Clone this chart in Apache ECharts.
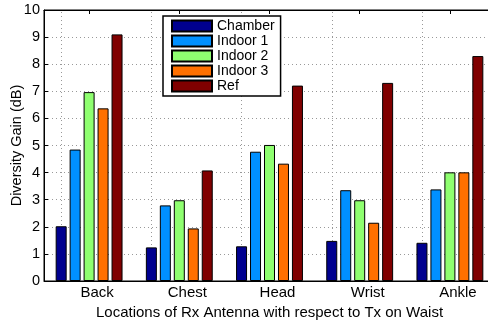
<!DOCTYPE html>
<html>
<head>
<meta charset="utf-8">
<script src="https://cdn.jsdelivr.net/npm/echarts@6/dist/echarts.min.js"></script>
<style>html,body{margin:0;padding:0;background:#fff}#c{width:488px;height:324px}</style>
</head>
<body>
<div id="c"></div>
<script>
const categories = ['Back', 'Chest', 'Head', 'Wrist', 'Ankle'];
const seriesNames = ['Chamber', 'Indoor 1', 'Indoor 2', 'Indoor 3', 'Ref'];
const chamber = [2.02, 1.24, 1.28, 1.48, 1.41];
const indoor1 = [4.85, 2.79, 4.77, 3.35, 3.38];
const indoor2 = [6.97, 2.98, 5.02, 2.98, 4.01];
const indoor3 = [6.37, 1.94, 4.33, 2.15, 4.01];
const ref = [9.10, 4.08, 7.21, 7.31, 8.30];
const yTicks = [0, 1, 2, 3, 4, 5, 6, 7, 8, 9, 10];
const colors = ['#00008F', '#0090FF', '#8FFF70', '#FF7000', '#800000'];
const values = [chamber, indoor1, indoor2, indoor3, ref];

const font = '"Liberation Sans", Arial, Helvetica, sans-serif';
const chart = echarts.init(document.getElementById('c'), null, {renderer: 'canvas'});

const series = seriesNames.map((name, i) => ({
  name: name,
  type: 'bar',
  data: values[i],
  barWidth: 11,
  barGap: '27%',
  itemStyle: {color: colors[i], borderColor: '#000', borderWidth: 1},
  emphasis: {disabled: true},
  animation: false
}));
series[0].markLine = {
  silent: true,
  symbol: 'none',
  label: {show: false},
  lineStyle: {color: '#999', type: [1, 3], width: 1},
  data: categories.map(c => ({xAxis: c})),
  animation: false,
  z: 1
};

chart.setOption({
  animation: false,
  textStyle: {fontFamily: font},
  grid: {left: 44, top: 10, width: 451, bottom: 43, outerBoundsMode: 'none', containLabel: false, show: true, borderColor: '#000', borderWidth: 1, backgroundColor: 'transparent'},
  legend: {
    data: seriesNames,
    orient: 'vertical',
    left: 163,
    top: 16,
    icon: 'rect',
    itemWidth: 40,
    itemHeight: 11,
    itemGap: 1,
    padding: [3, 6, 3, 8],
    borderColor: '#000',
    borderWidth: 1.5,
    backgroundColor: '#fff',
    textStyle: {fontFamily: font, fontSize: 14, color: '#000'},
    selectedMode: false
  },
  xAxis: [{
    type: 'category',
    data: categories,
    position: 'bottom',
    name: 'Locations of Rx Antenna with respect to Tx on Waist',
    nameLocation: 'middle',
    nameGap: 24,
    nameMoveOverlap: false,
    nameTextStyle: {fontFamily: font, fontSize: 15, color: '#000'},
    axisLine: {lineStyle: {color: '#000', width: 1}},
    axisTick: {show: true, inside: true, alignWithLabel: true, length: 4, lineStyle: {color: '#000'}},
    axisLabel: {fontFamily: font, fontSize: 15, color: '#000', margin: 4, padding: [0, 0, 0, 16]},
    splitLine: {show: false}
  }, {
    type: 'category',
    data: categories,
    position: 'top',
    axisLine: {lineStyle: {color: '#000', width: 1}},
    axisTick: {show: true, inside: true, alignWithLabel: true, length: 4, lineStyle: {color: '#000'}},
    axisLabel: {show: false},
    splitLine: {show: false}
  }],
  yAxis: {
    type: 'value',
    min: yTicks[0],
    max: yTicks[yTicks.length - 1],
    interval: 1,
    name: 'Diversity Gain (dB)',
    nameLocation: 'middle',
    nameGap: 20,
    nameMoveOverlap: false,
    nameTextStyle: {fontFamily: font, fontSize: 14.5, color: '#000'},
    axisLine: {show: true, lineStyle: {color: '#000', width: 1}},
    axisTick: {show: true, inside: true, length: 4, lineStyle: {color: '#000'}},
    axisLabel: {fontFamily: font, fontSize: 14.5, color: '#000', margin: 4},
    splitLine: {show: true, lineStyle: {color: '#999', type: [1, 3], width: 1}}
  },
  series: series
});
</script>
</body>
</html>
